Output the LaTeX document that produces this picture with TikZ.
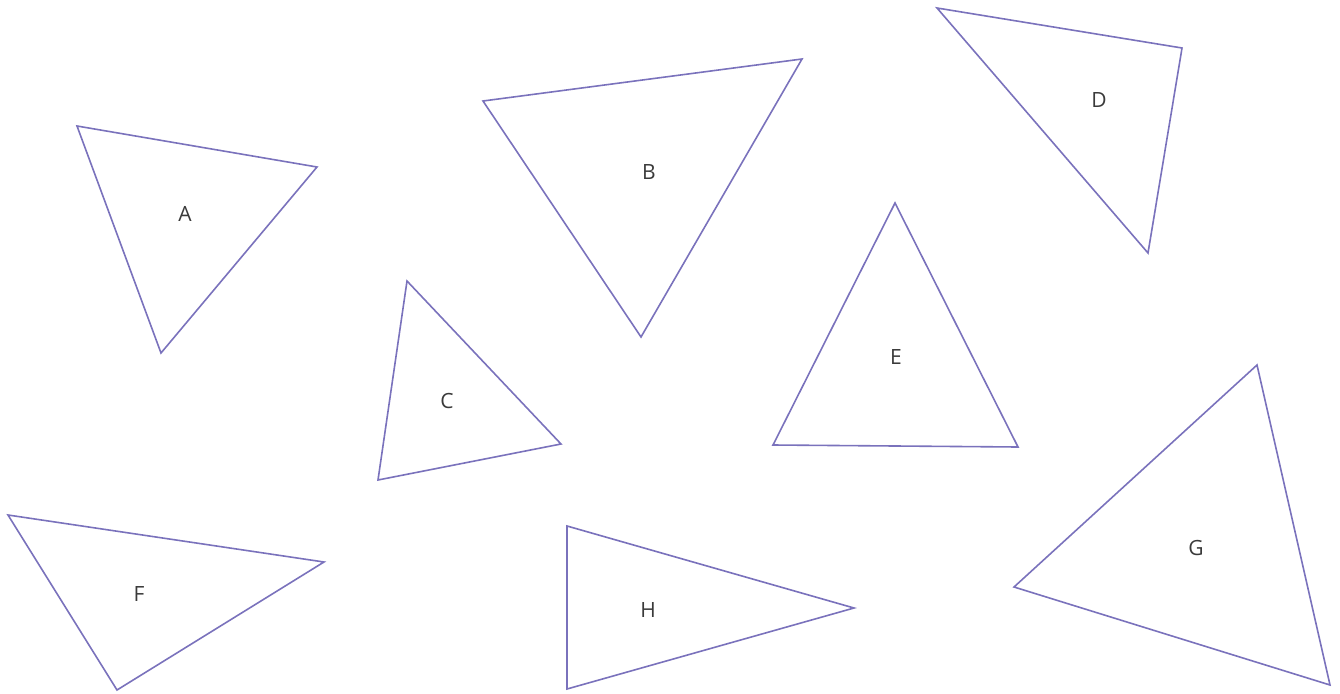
\documentclass[tikz,border=0pt]{standalone}
\usepackage{fontspec}
\setmainfont{Open Sans}
\definecolor{tri}{HTML}{7A72BC}
\definecolor{lbl}{HTML}{3A3A3A}
\begin{document}
\begin{tikzpicture}[x=1pt,y=-1pt,
  trishape/.style={draw=tri,line width=1.6pt,line join=miter},
  lab/.style={font=\fontsize{21}{21}\selectfont,text=lbl,inner sep=0pt}]
\useasboundingbox (0,0) rectangle (1340,693);
% triangles
\draw[trishape] (77,126) -- (317,167) -- (161,353) -- cycle;
\draw[trishape] (483,101) -- (802,59) -- (641,337) -- cycle;
\draw[trishape] (407,281) -- (561,444) -- (378,480) -- cycle;
\draw[trishape] (937,8) -- (1182,48) -- (1148,253) -- cycle;
\draw[trishape] (895,203) -- (1018,447) -- (773,445) -- cycle;
\draw[trishape] (8,515) -- (324,562) -- (117,690) -- cycle;
\draw[trishape] (1257,365) -- (1330,685) -- (1014,587) -- cycle;
\draw[trishape] (567,526) -- (854,608) -- (567,689) -- cycle;
% labels
\node[lab] (la) at (185,214) {A};
\node[lab] (lb) at (649,172) {B};
\node[lab] (lc) at (447,401) {C};
\node[lab] (ld) at (1099,100) {D};
\node[lab] (le) at (896,357) {E};
\node[lab] (lf) at (139,594) {F};
\node[lab] (lg) at (1196,548) {G};
\node[lab] (lh) at (648,610) {H};
\end{tikzpicture}
\end{document}
